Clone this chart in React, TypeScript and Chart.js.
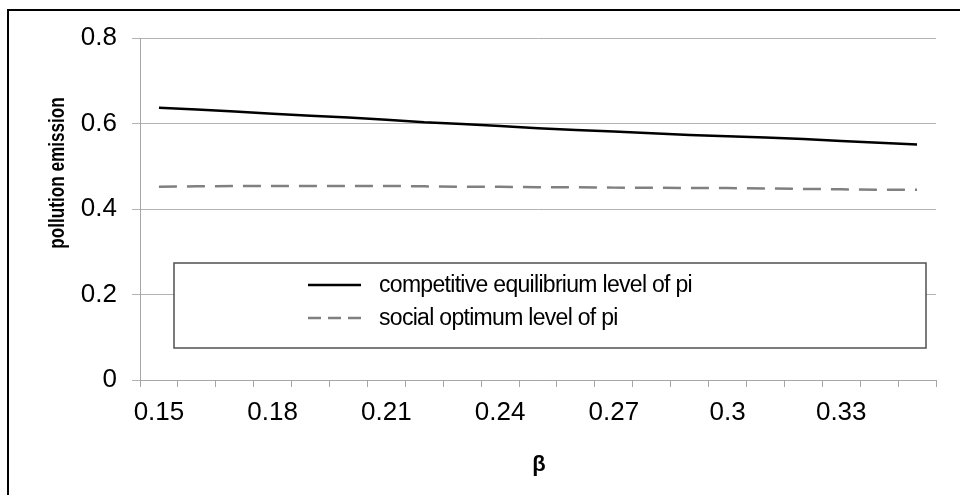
import React, { useEffect, useRef } from "react";
import { Chart, registerables } from "chart.js";

Chart.register(...registerables);

const betaLabels = [
  "0.15", "0.16", "0.17", "0.18", "0.19", "0.2", "0.21", "0.22", "0.23", "0.24", "0.25",
  "0.26", "0.27", "0.28", "0.29", "0.3", "0.31", "0.32", "0.33", "0.34", "0.35",
];
const competitiveLevel = [
  0.637, 0.633, 0.628, 0.623, 0.618, 0.614, 0.609, 0.603, 0.599, 0.594, 0.589,
  0.585, 0.581, 0.577, 0.573, 0.570, 0.567, 0.564, 0.559, 0.555, 0.551,
];
const socialLevel = [
  0.452, 0.453, 0.454, 0.454, 0.454, 0.454, 0.454, 0.453, 0.452, 0.452, 0.451,
  0.451, 0.450, 0.450, 0.449, 0.449, 0.448, 0.447, 0.446, 0.445, 0.445,
];
const seriesNames = ["competitive equilibrium level of pi", "social optimum level of pi"];
const yTitle = "pollution emission";
const xTitle = "β";

const FONT = "'Liberation Sans', Arial, sans-serif";

const overlayPlugin = {
  id: "overlay",
  afterDatasetsDraw(chart: any) {
    const ctx = chart.ctx;
    ctx.save();
    // legend box
    const bx = 174, by = 263, bw = 752, bh = 85;
    ctx.fillStyle = "#ffffff";
    ctx.fillRect(bx, by, bw, bh);
    ctx.strokeStyle = "#505050";
    ctx.lineWidth = 1.5;
    ctx.strokeRect(bx, by, bw, bh);
    const rows = [285, 318];
    chart.data.datasets.forEach((ds: any, i: number) => {
      const y = rows[i];
      ctx.beginPath();
      ctx.strokeStyle = ds.borderColor;
      ctx.lineWidth = ds.borderWidth;
      ctx.setLineDash(i === 1 ? [13, 7] : []);
      ctx.moveTo(308, y);
      ctx.lineTo(361, y);
      ctx.stroke();
      ctx.setLineDash([]);
      ctx.fillStyle = "#000000";
      ctx.font = `23px ${FONT}`;
      (ctx as any).letterSpacing = "-0.7px";
      ctx.textAlign = "left";
      ctx.textBaseline = "middle";
      ctx.fillText(ds.label, 379, y + 1);
      (ctx as any).letterSpacing = "0px";
    });
    // axis titles
    ctx.fillStyle = "#000000";
    ctx.font = `bold 22px ${FONT}`;
    ctx.textAlign = "center";
    ctx.textBaseline = "middle";
    ctx.save();
    ctx.translate(58, 173);
    ctx.rotate(-Math.PI / 2);
    ctx.scale(0.78, 1);
    ctx.fillText(yTitle, 0, 0);
    ctx.restore();
    ctx.font = `bold 22px ${FONT}`;
    ctx.fillText(xTitle, 539, 465);
    ctx.restore();
  },
};

export default function App() {
  const ref = useRef<HTMLCanvasElement | null>(null);
  useEffect(() => {
    if (!ref.current) return;
    const chart = new Chart(ref.current, {
      type: "line",
      data: {
        labels: betaLabels,
        datasets: [
          {
            label: seriesNames[0],
            data: competitiveLevel,
            borderColor: "#000000",
            borderWidth: 2.5,
            pointRadius: 0,
            tension: 0,
            fill: false,
          },
          {
            label: seriesNames[1],
            data: socialLevel,
            borderColor: "#808080",
            borderWidth: 2.5,
            borderDash: [18, 10],
            pointRadius: 0,
            tension: 0,
            fill: false,
          },
        ],
      },
      options: {
        animation: false,
        responsive: false,
        devicePixelRatio: 1,
        layout: { padding: { left: 0, top: 38, right: 24, bottom: 0 } },
        plugins: { legend: { display: false }, tooltip: { enabled: false } },
        scales: {
          x: {
            type: "category",
            offset: true,
            afterFit: (s: any) => { s.height = 115; },
            grid: {
              display: true,
              offset: true,
              drawOnChartArea: false,
              drawTicks: true,
              tickLength: 7,
              color: "#a6a6a6",
            },
            border: { display: true, color: "#a6a6a6", width: 1 },
            ticks: {
              autoSkip: false,
              maxRotation: 0,
              minRotation: 0,
              padding: 10,
              color: "#000000",
              font: { family: FONT, size: 26 },
              callback: (_v: any, i: number) => (i % 3 === 0 ? betaLabels[i] : ""),
            },
          },
          y: {
            min: 0,
            max: 0.8,
            afterFit: (s: any) => { s.width = 140; },
            grid: { color: "#b3b3b3", lineWidth: 1, drawTicks: true, tickLength: 8 },
            border: { display: true, color: "#a6a6a6", width: 1 },
            ticks: {
              stepSize: 0.2,
              padding: 15,
              color: "#000000",
              font: { family: FONT, size: 26 },
              callback: (v: any) => String(Number(Number(v).toFixed(1))),
            },
          },
        },
      },
      plugins: [overlayPlugin],
    });
    return () => chart.destroy();
  }, []);

  return (
    <div style={{ position: "fixed", left: 0, top: 0, width: 960, height: 495, overflow: "hidden", background: "#ffffff" }}>
      <canvas ref={ref} width={960} height={495} style={{ position: "absolute", left: 0, top: 0 }} />
      <div
        style={{
          position: "absolute",
          left: 7,
          top: 9,
          width: 1200,
          height: 800,
          borderLeft: "2px solid #000",
          borderTop: "2px solid #000",
          pointerEvents: "none",
        }}
      />
    </div>
  );
}
